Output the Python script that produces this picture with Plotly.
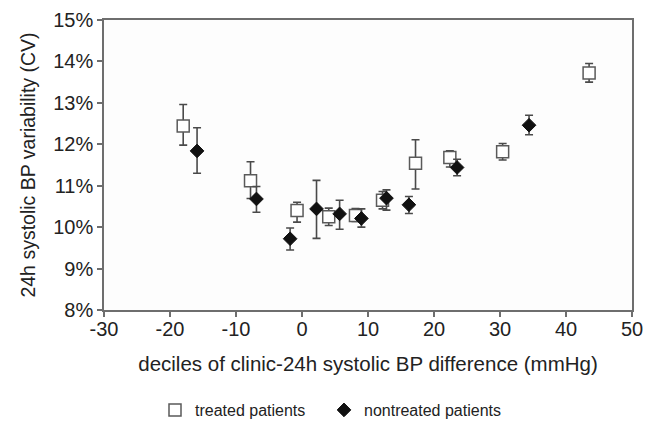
import plotly.graph_objects as go

# treated patients (open squares)
treated_x = [-18.0, -7.8, -0.75, 4.05, 8.1, 12.2, 17.2, 22.4, 30.4, 43.5]
treated_y = [12.44, 11.12, 10.40, 10.25, 10.28, 10.65, 11.54, 11.68, 11.82, 13.72]
treated_hi = [12.96, 11.58, 10.60, 10.46, 10.45, 10.86, 12.11, 11.84, 12.02, 13.95]
treated_lo = [11.98, 10.69, 10.12, 10.04, 10.14, 10.44, 10.92, 11.45, 11.62, 13.50]

# nontreated patients (filled diamonds)
non_x = [-15.9, -6.9, -1.8, 2.2, 5.7, 9.0, 12.8, 16.2, 23.5, 34.4]
non_y = [11.84, 10.68, 9.72, 10.44, 10.32, 10.21, 10.70, 10.54, 11.44, 12.46]
non_hi = [12.40, 10.98, 9.98, 11.13, 10.65, 10.44, 10.90, 10.74, 11.64, 12.70]
non_lo = [11.30, 10.36, 9.45, 9.73, 9.95, 10.00, 10.41, 10.33, 11.24, 12.23]

y_ticks = [8, 9, 10, 11, 12, 13, 14, 15]
x_ticks = [-30, -20, -10, 0, 10, 20, 30, 40, 50]

FONT = "Liberation Sans, Arial, sans-serif"
ERRC = "#4a4a4a"

def err(y, hi, lo):
    return dict(type="data", symmetric=False,
                array=[h - v for h, v in zip(hi, y)],
                arrayminus=[v - l for v, l in zip(y, lo)],
                color=ERRC, thickness=1.6, width=4)

fig = go.Figure()
fig.add_trace(go.Scatter(
    x=treated_x, y=treated_y, mode="markers", name="treated patients",
    error_y=err(treated_y, treated_hi, treated_lo),
    marker=dict(symbol="square", size=12, color="white",
                line=dict(color="#5a5a5a", width=1.5)),
    legend="legend",
))
fig.add_trace(go.Scatter(
    x=non_x, y=non_y, mode="markers", name="nontreated patients",
    error_y=err(non_y, non_hi, non_lo),
    marker=dict(symbol="diamond", size=10.5, color="#111111",
                line=dict(color="#111111", width=1)),
    legend="legend2",
))

PLOT_L, PLOT_R, PLOT_T, PLOT_B = 104, 632, 20, 310
LEG_Y = (PLOT_B - 410) / (PLOT_B - PLOT_T)

def leg(left_px):
    return dict(orientation="h", x=(left_px - PLOT_L) / (PLOT_R - PLOT_L), xanchor="left",
                y=LEG_Y, yanchor="middle",
                font=dict(size=16, family=FONT, color="#222222"),
                bgcolor="rgba(0,0,0,0)", itemwidth=30)

fig.update_layout(
    width=651, height=423,
    margin=dict(l=PLOT_L, r=651 - PLOT_R, t=PLOT_T, b=423 - PLOT_B, autoexpand=False),
    paper_bgcolor="white", plot_bgcolor="#fdfdfd",
    font=dict(family=FONT, color="#222222", size=20),
    showlegend=True,
    legend=leg(155),
    legend2=leg(324),
)
fig.update_xaxes(
    range=[-30, 50], tickvals=x_ticks, ticktext=[str(v) for v in x_ticks],
    showgrid=False, zeroline=False,
    showline=True, linecolor="#6e6e6e", linewidth=1.5, mirror=True,
    ticks="outside", ticklen=5, tickcolor="#6e6e6e", tickwidth=1.5,
    tickfont=dict(size=20), ticklabelstandoff=-5,
    title=dict(text="deciles of clinic-24h systolic BP difference (mmHg)",
               font=dict(size=20.5), standoff=18),
)
fig.update_yaxes(
    range=[8, 15], tickvals=y_ticks, ticktext=[f"{v}%" for v in y_ticks],
    showgrid=False, zeroline=False,
    showline=True, linecolor="#6e6e6e", linewidth=1.5, mirror=True,
    ticks="outside", ticklen=5, tickcolor="#6e6e6e", tickwidth=1.5,
    tickfont=dict(size=20),
    title=dict(text="24h systolic BP variability (CV)", font=dict(size=19.5), standoff=12),
)

fig.write_html(
    "out.html",
    config={"displayModeBar": False},
    post_script="document.body.style.margin='0';document.body.style.overflow='hidden';",
)
